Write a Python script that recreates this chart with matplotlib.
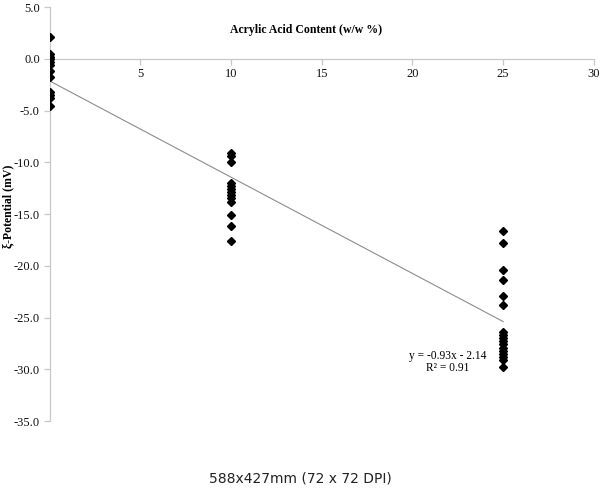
import matplotlib
matplotlib.use("Agg")
import matplotlib.pyplot as plt
import numpy as np

# acrylic acid content groups and measured zeta potentials (mV)
aa_0 = [2.1, 0.5, 0.2, 0.0, -0.3, -0.6, -1.2, -1.8, -3.2, -3.5, -3.8, -4.6]
aa_10 = [-9.1, -9.4, -10.0, -12.0, -12.3, -12.6, -12.9, -13.2, -13.5, -13.8,
         -15.1, -16.2, -17.6]
aa_25 = [-16.6, -17.8, -20.4, -21.4, -22.9, -23.8, -26.4, -26.7, -27.0, -27.3,
         -27.6, -27.9, -28.2, -28.5, -28.8, -29.1, -29.8]
groups = [0, 10, 25]

x_ticks = [5, 10, 15, 20, 25, 30]
y_ticks = [5, 0, -5, -10, -15, -20, -25, -30, -35]

slope = -0.93
intercept = -2.14
r_squared = 0.91

serif = "Liberation Serif"
axis_grey = "#c8c8c8"

fig = plt.figure(figsize=(6.01, 4.97), dpi=100)
ax = fig.add_axes([0.0825, 0.1529, 0.9055, 0.833])

xs = []
ys = []
for g, vals in zip(groups, [aa_0, aa_10, aa_25]):
    xs += [g] * len(vals)
    ys += vals
ax.plot(xs, ys, linestyle="none", marker="D", markersize=4.3,
        color="black", zorder=3)

# linear trend line
fit_x = np.array([0, 25])
ax.plot(fit_x, slope * fit_x + intercept, color="#8c8c8c", linewidth=0.8,
        zorder=2)

eq = "y = %.2fx - %.2f\nR\u00b2 = %.2f" % (slope, -intercept, r_squared)
ax.text(21.95, -29.3, eq, family=serif, fontsize=8.3, ha="center",
        va="center", multialignment="center", linespacing=1.0)

ax.set_xlim(0, 30)
ax.set_ylim(-35, 5)
ax.set_xticks(x_ticks)
ax.set_yticks(y_ticks)
ax.set_yticklabels(["%.1f" % v for v in y_ticks])

ax.spines["top"].set_visible(False)
ax.spines["right"].set_visible(False)
ax.spines["bottom"].set_position(("data", 0))
for s in ["left", "bottom"]:
    ax.spines[s].set_color(axis_grey)
    ax.spines[s].set_linewidth(0.9)

ax.tick_params(axis="both", direction="out", length=4, width=0.9,
               color=axis_grey, labelsize=9, pad=3)
for lab in ax.get_xticklabels() + ax.get_yticklabels():
    lab.set_family(serif)
    lab.set_color("#111111")

# axis titles
ax.text(14.13, 2.8, "Acrylic Acid Content (w/w %)", family=serif, fontsize=8.5,
        fontweight="bold", ha="center", va="center")
fig.text(0.014, 0.585, "\u03be-Potential (mV)", family=serif, fontsize=8.5,
         fontweight="bold", rotation=90, ha="center", va="center")

fig.text(0.5, 0.038, "588x427mm (72 x 72 DPI)", family="DejaVu Sans",
         fontsize=10, ha="center", va="center", color="#222222")

fig.savefig("out.png", dpi=100)
